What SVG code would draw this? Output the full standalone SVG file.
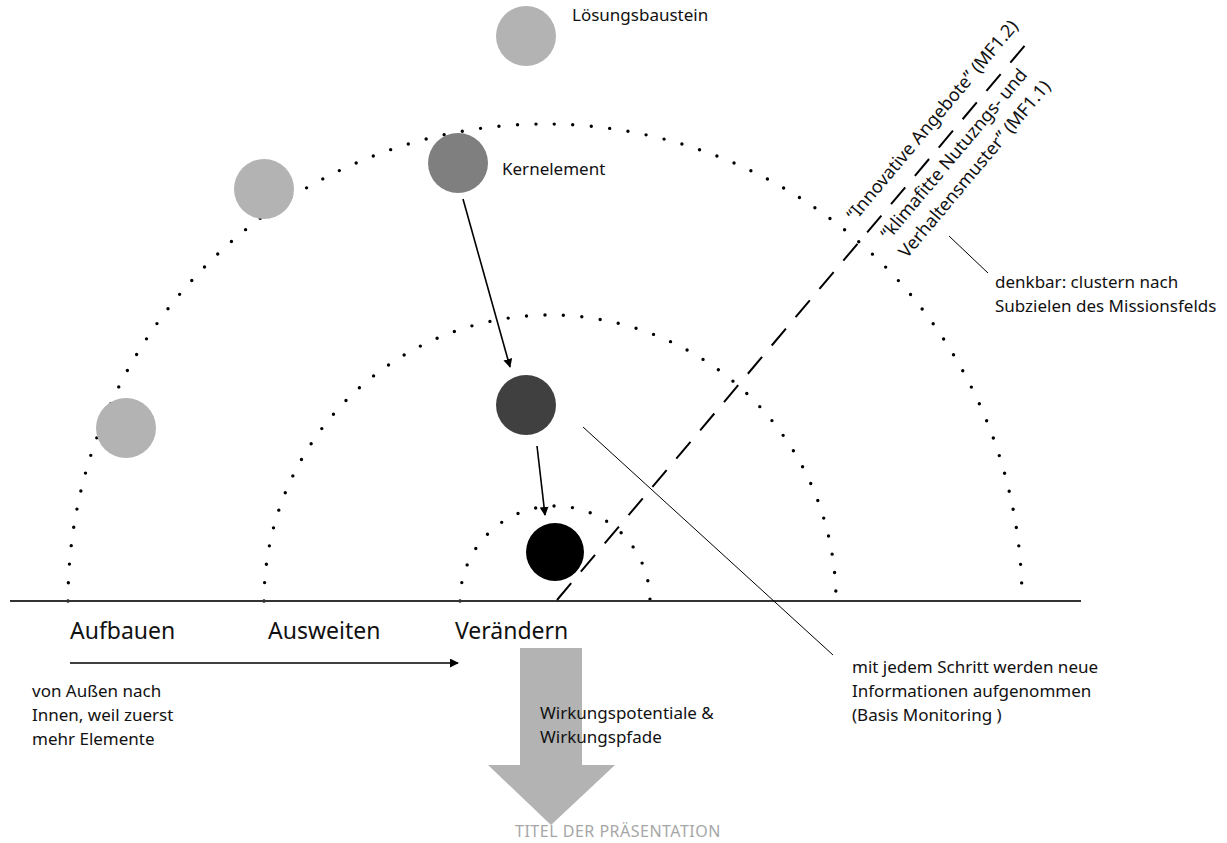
<svg xmlns="http://www.w3.org/2000/svg" width="1227" height="843" viewBox="0 0 1227 843">
<style>
text{font-family:"Noto Sans","Open Sans",sans-serif;fill:#111}
.s{font-size:17px}
.r{font-size:18px}
.b{font-size:23px}
.dot{fill:none;stroke:#000;stroke-width:3.4;stroke-linecap:round;stroke-dasharray:0 18.5}
.thin{stroke:#000;stroke-width:1;fill:none}
.arr{stroke:#000;stroke-width:1.6;fill:none;marker-end:url(#ah)}
</style>
<defs>
<marker id="ah" viewBox="0 0 10 10" refX="9" refY="5" markerWidth="9" markerHeight="9" markerUnits="userSpaceOnUse" orient="auto"><path d="M0,0 L10,5 L0,10 z" fill="#000"/></marker>
</defs>
<g id="arcs">
<path class="dot" d="M68,601 A477,477 0 0 1 1022,601"/>
<path class="dot" d="M264,601 A286,286 0 0 1 836,601"/>
<path class="dot" d="M460,601 A95,95 0 0 1 650,601"/>
</g>
<g id="baseline"><line x1="10" y1="601" x2="1081" y2="601" stroke="#333" stroke-width="2"/></g>
<g id="bigarrow"><path d="M520,648 H582 V765 H615 L551,825 L488,765 H520 Z" fill="#b3b3b3"/></g>
<g id="connectors">
<line x1="557" y1="600" x2="1032" y2="37" stroke="#000" stroke-width="2" stroke-dasharray="22 15"/>
<line class="arr" x1="463" y1="199" x2="510" y2="367"/>
<line class="arr" x1="537" y1="446" x2="545" y2="515"/>
<line class="arr" x1="70" y1="663" x2="458" y2="663"/>
<line class="thin" x1="583" y1="427" x2="833" y2="655"/>
<line class="thin" x1="949" y1="236" x2="988" y2="273"/>
</g>
<g id="n-loesung"><circle cx="526" cy="36" r="30" fill="#b3b3b3"/><text class="s" x="572" y="21">Lösungsbaustein</text></g>
<g id="n-left1"><circle cx="264" cy="189" r="30" fill="#b3b3b3"/></g>
<g id="n-left2"><circle cx="126" cy="428" r="30" fill="#b3b3b3"/></g>
<g id="n-kern"><circle cx="458" cy="163" r="30" fill="#7f7f7f"/><text class="s" x="502" y="175">Kernelement</text></g>
<g id="n-dark"><circle cx="526" cy="405" r="30" fill="#404040"/></g>
<g id="n-black"><circle cx="555" cy="552" r="29" fill="#000"/></g>
<g id="labels">
<text class="b" x="70" y="639">Aufbauen</text>
<text class="b" x="268" y="639">Ausweiten</text>
<text class="b" x="455" y="639">Verändern</text>
<text class="s" x="32" y="697">von Außen nach</text>
<text class="s" x="32" y="721">Innen, weil zuerst</text>
<text class="s" x="32" y="745">mehr Elemente</text>
<text class="s" x="540" y="719">Wirkungspotentiale &amp;</text>
<text class="s" x="540" y="743">Wirkungspfade</text>
<text class="s" x="852" y="673">mit jedem Schritt werden neue</text>
<text class="s" x="852" y="697">Informationen aufgenommen</text>
<text class="s" x="852" y="721">(Basis Monitoring )</text>
<text class="s" x="995" y="288">denkbar: clustern nach</text>
<text class="s" x="995" y="312">Subzielen des Missionsfelds</text>
<text class="r" transform="translate(855,222) rotate(-50)">“Innovative Angebote” (MF1.2)</text>
<text class="r" transform="translate(889,241) rotate(-50)">“klimafitte Nutuzngs- und</text>
<text class="r" transform="translate(907,259) rotate(-50)">Verhaltensmuster” (MF1.1)</text>
<text x="618" y="837" text-anchor="middle" style="font-size:16px;fill:#a6a6a6;letter-spacing:0.5px">TITEL DER PRÄSENTATION</text>
</g>
</svg>
